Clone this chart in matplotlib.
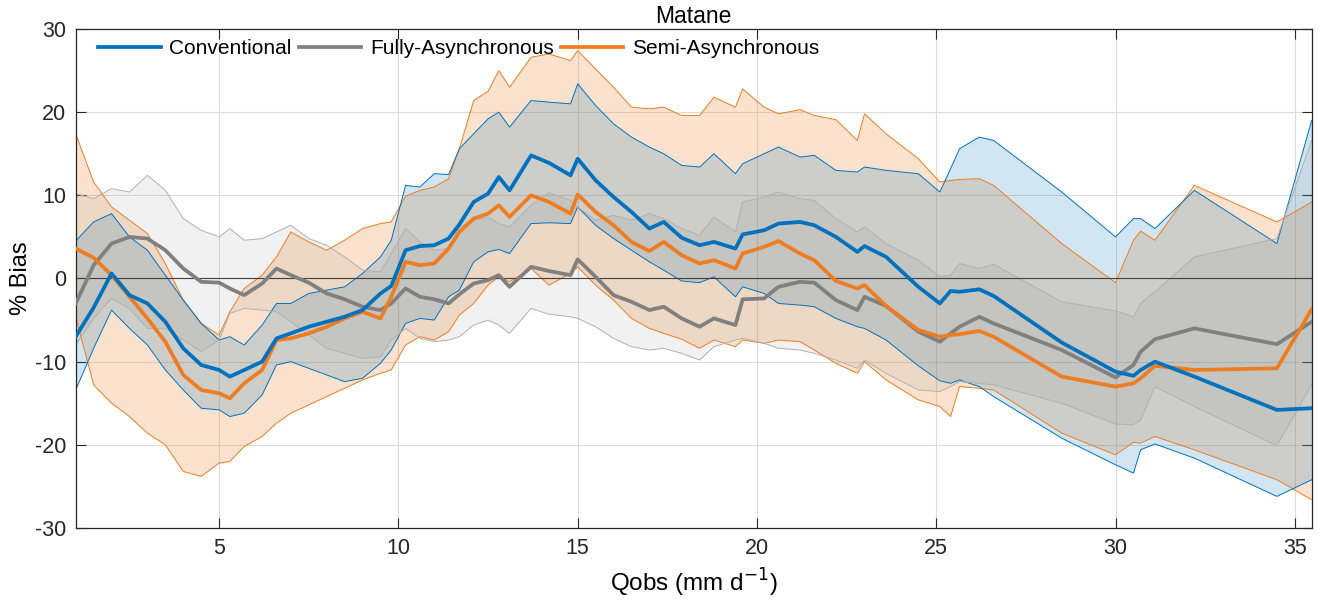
import matplotlib
matplotlib.use("Agg")
import matplotlib.pyplot as plt
import numpy as np

plt.rcParams['font.family'] = ['Liberation Sans', 'DejaVu Sans']
plt.rcParams['axes.unicode_minus'] = False

# Qobs (mm/d), shared by all series
qobs = [1.0, 1.5, 2.0, 2.5, 3.0, 3.5, 4.0, 4.5, 5.0, 5.3, 5.7, 6.2, 6.6, 7.0, 7.5, 8.0,
        8.5, 9.0, 9.5, 9.8, 10.2, 10.6, 11.0, 11.4, 11.7, 12.1, 12.5, 12.8, 13.1, 13.7,
        14.2, 14.8, 15.0, 15.5, 16.0, 16.5, 17.0, 17.4, 17.9, 18.4, 18.8, 19.4, 19.6,
        20.2, 20.6, 21.2, 21.6, 22.2, 22.8, 23.0, 23.6, 24.5, 25.1, 25.4, 25.65, 26.2,
        26.6, 28.5, 30.0, 30.5, 30.7, 31.1, 32.2, 34.5, 35.47]

conv = [-7.0, -3.5, 0.6, -2.0, -3.0, -5.2, -8.4, -10.4, -11.0, -11.8, -11.0, -10.0, -7.2,
        -6.6, -5.8, -5.2, -4.6, -3.8, -1.8, -0.9, 3.4, 3.9, 4.0, 4.8, 6.5, 9.2, 10.2, 12.2,
        10.6, 14.8, 13.9, 12.4, 14.4, 11.8, 9.8, 8.0, 6.0, 6.8, 4.9, 4.0, 4.4, 3.6, 5.3,
        5.8, 6.6, 6.8, 6.4, 5.0, 3.2, 3.9, 2.6, -1.0, -3.0, -1.5, -1.6, -1.3, -2.1, -7.7,
        -11.2, -11.7, -11.0, -10.0, -11.8, -15.8, -15.6]
conv_lo = [-13.4, -8.4, -3.8, -6.0, -8.0, -11.0, -13.4, -15.6, -15.8, -16.6, -16.2, -14.0,
           -10.4, -10.0, -10.8, -11.6, -12.4, -12.0, -10.2, -8.6, -5.4, -4.8, -5.0, -2.2,
           -1.4, 2.0, 3.2, 3.5, 3.0, 6.6, 6.7, 6.6, 8.6, 6.4, 4.8, 3.4, 2.0, 1.0, -0.3,
           -0.5, 0.2, -2.2, -1.0, -1.8, -3.0, -3.2, -3.4, -4.8, -5.8, -6.0, -7.4, -10.5,
           -12.3, -12.6, -12.2, -13.0, -14.2, -19.2, -22.4, -23.4, -20.6, -19.9, -21.6,
           -26.2, -24.2]
conv_hi = [4.5, 6.8, 7.8, 5.0, 3.4, 0.4, -2.6, -5.4, -7.4, -7.0, -8.0, -5.6, -3.0, -3.0,
           -1.8, -1.4, -1.0, 0.6, 2.6, 4.6, 11.2, 11.0, 12.6, 12.5, 15.6, 17.4, 19.2, 20.0,
           18.2, 21.4, 21.2, 21.0, 23.4, 20.8, 18.6, 17.0, 15.8, 15.0, 13.6, 13.4, 15.0,
           12.6, 13.8, 15.0, 15.8, 14.6, 14.8, 13.0, 12.8, 13.4, 13.0, 12.6, 10.4, 13.2,
           15.6, 17.0, 16.6, 10.4, 5.0, 7.2, 7.2, 6.0, 10.6, 4.2, 19.0]

fa = [-3.0, 1.6, 4.2, 5.0, 4.8, 3.4, 1.2, -0.4, -0.5, -1.2, -2.0, -0.6, 1.2, 0.4, -0.5,
      -1.8, -2.5, -3.4, -3.8, -3.0, -1.2, -2.2, -2.5, -3.0, -1.9, -0.6, -0.2, 0.4, -1.0,
      1.4, 0.9, 0.4, 2.3, 0.2, -2.0, -2.8, -3.8, -3.4, -4.8, -5.8, -4.8, -5.6, -2.5, -2.4,
      -1.0, -0.4, -0.5, -2.6, -3.8, -2.2, -3.3, -6.4, -7.6, -6.6, -5.8, -4.6, -5.4, -8.6,
      -11.9, -10.4, -8.8, -7.3, -6.0, -7.9, -5.2]
fa_lo = [-8.0, -4.8, -2.4, -3.6, -6.0, -6.0, -7.4, -8.8, -7.4, -4.2, -3.6, -3.8, -4.0,
         -5.2, -6.8, -8.4, -9.0, -9.6, -9.4, -7.4, -6.0, -7.2, -7.6, -7.4, -7.0, -5.6,
         -5.0, -5.6, -6.6, -3.6, -4.3, -4.6, -4.8, -5.8, -7.2, -8.2, -8.6, -8.4, -9.0,
         -9.8, -8.2, -7.4, -7.2, -7.8, -8.4, -8.6, -9.0, -9.8, -10.8, -9.8, -11.4, -13.4,
         -13.6, -13.0, -12.4, -12.6, -12.8, -15.0, -17.5, -17.6, -17.0, -13.0, -15.4,
         -20.1, -12.8]
fa_hi = [10.2, 9.6, 10.8, 10.4, 12.4, 10.6, 7.2, 5.8, 5.0, 6.0, 4.6, 4.8, 5.6, 6.4, 4.8,
         4.0, 2.6, 1.0, 0.8, 3.0, 6.0, 4.4, 3.4, 3.6, 6.2, 7.0, 7.4, 6.6, 6.2, 8.8, 10.3,
         9.4, 8.6, 7.0, 7.6, 7.0, 7.8, 7.2, 6.0, 5.2, 7.4, 5.6, 9.2, 9.8, 10.4, 9.6, 9.4,
         7.2, 5.6, 6.2, 4.2, 2.2, 0.2, 0.4, 1.8, 1.2, 1.7, -2.8, -3.9, -4.6, -3.0, -1.6,
         2.6, 4.8, 16.6]

sa = [3.6, 2.5, 0.4, -2.2, -4.8, -7.6, -11.6, -13.4, -13.8, -14.4, -12.6, -11.0, -7.4,
      -7.2, -6.6, -5.8, -4.8, -4.0, -4.8, -2.2, 2.0, 1.6, 1.8, 3.6, 5.6, 7.2, 7.8, 8.8, 7.4,
      10.0, 9.2, 7.8, 10.1, 8.0, 6.4, 4.4, 3.3, 4.4, 2.8, 1.8, 2.2, 1.2, 3.0, 3.8, 4.5,
      3.0, 2.2, -0.3, -1.2, -0.8, -3.3, -6.2, -7.0, -6.8, -6.7, -6.3, -7.0, -11.8, -13.0,
      -12.6, -12.0, -10.5, -11.0, -10.8, -3.7]
sa_lo = [-4.6, -12.8, -15.0, -16.6, -18.6, -20.0, -23.2, -23.8, -22.2, -22.0, -20.2, -19.0,
         -17.4, -16.2, -15.2, -14.2, -13.2, -12.2, -11.4, -11.0, -8.0, -7.0, -7.4, -6.4,
         -4.4, -3.0, -0.8, 0.2, -0.4, 1.2, -0.8, 0.6, 1.4, -0.8, -2.6, -4.8, -6.0, -6.6,
         -7.3, -8.4, -7.4, -8.2, -7.4, -7.8, -7.4, -7.6, -8.6, -10.2, -11.4, -10.0, -12.2,
         -14.6, -15.4, -16.6, -13.0, -13.2, -13.4, -18.6, -21.2, -19.7, -19.8, -19.0,
         -20.6, -24.2, -26.6]
sa_hi = [17.4, 11.6, 8.6, 7.0, 5.4, 1.8, -2.6, -5.4, -6.8, -4.0, -1.2, 0.4, 2.6, 5.6, 4.4,
         3.4, 4.6, 6.0, 6.6, 6.8, 9.9, 10.6, 11.0, 12.0, 15.6, 21.4, 22.5, 25.0, 23.0, 26.6,
         27.0, 26.2, 27.4, 25.2, 23.0, 20.6, 20.4, 20.6, 19.6, 19.6, 21.8, 20.6, 22.8, 20.6,
         19.8, 20.3, 19.6, 19.1, 16.6, 19.8, 17.4, 14.4, 11.6, 11.8, 11.9, 12.0, 11.2, 4.2,
         -0.5, 4.6, 5.7, 4.6, 11.2, 6.8, 9.2]

blue = '#0072BD'
grey = '#808080'
orange = '#ED7D20'

x = np.array(qobs)
fig = plt.figure(figsize=(13.28, 6), dpi=100)
ax = fig.add_axes([0.057, 0.12, 0.9307, 0.8317])

# bands: orange first, then blue on top of it, then the light grey one
bands = [(sa_lo, sa_hi, orange, orange, 0.22),
         (conv_lo, conv_hi, blue, blue, 0.18),
         (fa_lo, fa_hi, grey, '#b0b0b0', 0.11)]
for lo, hi, c, ec, a in bands:
    ax.fill(np.r_[x, x[::-1]], np.r_[hi, lo[::-1]], facecolor=c, alpha=a,
            edgecolor='none', zorder=1)
    ax.plot(x, hi, color=ec, lw=0.7, zorder=2)
    ax.plot(x, lo, color=ec, lw=0.7, zorder=2)
ax.plot([x[-1], x[-1]], [conv_lo[-1], conv_hi[-1]], color=blue, lw=0.9, zorder=2)

ax.axhline(0, color='#404040', lw=0.8, zorder=2.5)

ax.plot(x, conv, color=blue, lw=2.7, label='Conventional', zorder=4)
ax.plot(x, fa, color=grey, lw=2.7, label='Fully-Asynchronous', zorder=3)
ax.plot(x, sa, color=orange, lw=2.7, label='Semi-Asynchronous', zorder=3.5)

ax.set_xlim(1, 35.47)
ax.set_ylim(-30, 30)
ax.set_xticks([5, 10, 15, 20, 25, 30, 35])
ax.set_yticks([-30, -20, -10, 0, 10, 20, 30])
ax.grid(True, color='#dcdcdc', lw=0.8)
ax.set_axisbelow(True)
ax.tick_params(direction='in', length=7, top=True, right=True, labelsize=15.5,
               colors='#262626', pad=7)
for s in ax.spines.values():
    s.set_color('#262626')
    s.set_linewidth(0.9)

ax.set_title('Matane', fontsize=16.5, pad=4)
ax.set_xlabel('Qobs (mm d$^{-1}$)', fontsize=17.5, labelpad=6)
ax.set_ylabel('% Bias', fontsize=17, labelpad=2)

ax.legend(loc='upper left', ncol=3, frameon=False, fontsize=15, handlelength=3.0,
          handletextpad=0.4, columnspacing=0.35, borderaxespad=0.1,
          bbox_to_anchor=(0.01, 1.0))

fig.savefig('out.png', dpi=100)
